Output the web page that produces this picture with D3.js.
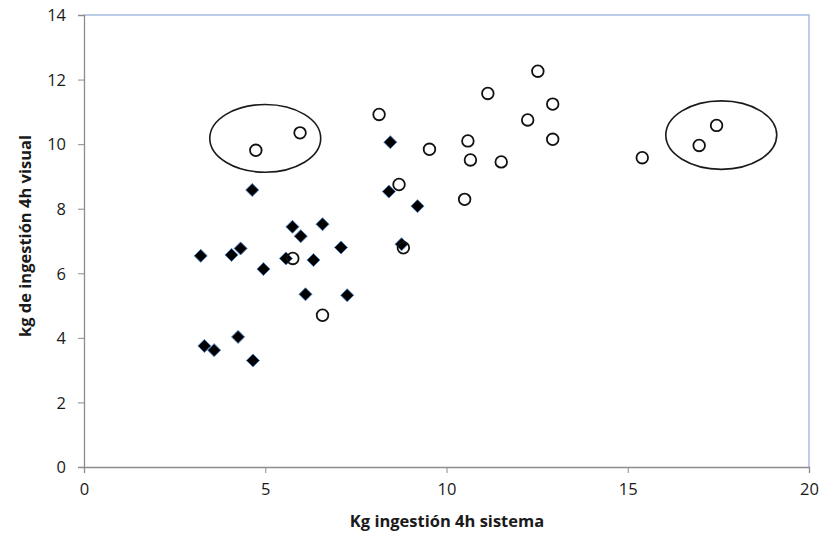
<!DOCTYPE html>
<html>
<head>
<meta charset="utf-8">
<script src="https://cdn.jsdelivr.net/npm/d3@7"></script>
<style>
  html, body { margin: 0; padding: 0; background: #fff; }
  svg { display: block; }
</style>
</head>
<body>
<svg id="chart" width="827" height="535"></svg>
<script>
// ---- data ----
const xTicks = [0, 5, 10, 15, 20];
const yTicks = [0, 2, 4, 6, 8, 10, 12, 14];
const xTitle = "Kg ingestión 4h sistema";
const yTitle = "kg de ingestión 4h visual";

// series 1: filled diamonds
const diamondX = [8.45, 8.41, 9.20, 4.64, 5.75, 6.58, 5.98, 7.09, 8.76, 3.22, 4.07, 4.32, 4.95, 5.57, 6.33, 6.11, 7.26, 4.25, 3.32, 3.59, 4.66];
const diamondY = [10.06, 8.53, 8.08, 8.58, 7.44, 7.52, 7.15, 6.80, 6.90, 6.54, 6.57, 6.77, 6.13, 6.46, 6.41, 5.35, 5.32, 4.03, 3.75, 3.62, 3.30];

// series 2: open circles
const circleX = [4.74, 5.96, 8.14, 9.53, 8.69, 8.81, 5.76, 6.58, 12.52, 11.14, 12.93, 12.24, 12.93, 10.59, 10.66, 11.51, 10.50, 15.40, 16.97, 17.45];
const circleY = [9.81, 10.35, 10.92, 9.84, 8.75, 6.79, 6.46, 4.70, 12.26, 11.57, 11.24, 10.75, 10.15, 10.10, 9.51, 9.45, 8.29, 9.58, 9.96, 10.58];

// annotation ellipses (data units): centre x, centre y, radius x, radius y
const ellipseCX = [5.00, 17.58];
const ellipseCY = [10.18, 10.28];
const ellipseRX = [1.53, 1.53];
const ellipseRY = [1.05, 1.06];

// ---- layout ----
(function () {
const svg = d3.select("#chart");
const pl = 84, pr = 809, pt = 15, pb = 467;

const x = d3.scaleLinear().domain([0, 20]).range([pl, pr]);
const y = d3.scaleLinear().domain([0, 14]).range([pb, pt]);

const font = "'Open Sans', 'DejaVu Sans', sans-serif";

// top & right border (light blue)
svg.append("path")
  .attr("d", `M${pl},${pt}H${pr}V${pb}`)
  .attr("fill", "none")
  .attr("stroke", "#a6bfe0")
  .attr("stroke-width", 1.5);

// axes
const xAxis = svg.append("g")
  .attr("transform", `translate(0,${pb})`)
  .call(d3.axisBottom(x).tickValues(xTicks).tickSizeOuter(0).tickSize(6).tickPadding(10));
const yAxis = svg.append("g")
  .attr("transform", `translate(${pl},0)`)
  .call(d3.axisLeft(y).tickValues(yTicks).tickSizeOuter(0).tickSize(6).tickPadding(12));

[xAxis, yAxis].forEach(g => {
  g.select(".domain").attr("stroke", "#8c8c8c").attr("stroke-width", 1.3);
  g.selectAll(".tick line").attr("stroke", "#8c8c8c").attr("stroke-width", 1);
  g.selectAll(".tick text")
    .attr("fill", "#1a1a1a")
    .style("font-family", font)
    .style("font-size", "16.5px");
});
yAxis.selectAll(".tick text").attr("dy", "0.35em");

// axis titles
svg.append("text")
  .attr("x", 447).attr("y", 527)
  .attr("text-anchor", "middle")
  .style("font-family", font)
  .style("font-size", "16.5px")
  .style("font-weight", "bold")
  .attr("fill", "#1a1a1a")
  .text(xTitle);

svg.append("text")
  .attr("transform", `translate(31,236) rotate(-90)`)
  .attr("text-anchor", "middle")
  .style("font-family", font)
  .style("font-size", "16.5px")
  .style("font-weight", "bold")
  .attr("fill", "#1a1a1a")
  .text(yTitle);

// ellipses
svg.append("g").selectAll("ellipse")
  .data(ellipseCX.map((cx, i) => ({cx, cy: ellipseCY[i], rx: ellipseRX[i], ry: ellipseRY[i]})))
  .join("ellipse")
  .attr("cx", d => x(d.cx))
  .attr("cy", d => y(d.cy))
  .attr("rx", d => x(d.rx) - x(0))
  .attr("ry", d => y(0) - y(d.ry))
  .attr("fill", "none")
  .attr("stroke", "#1a1a1a")
  .attr("stroke-width", 1.6);

// diamonds
const dh = 6.5;
svg.append("g").selectAll("path")
  .data(diamondX.map((v, i) => [v, diamondY[i]]))
  .join("path")
  .attr("transform", d => `translate(${x(d[0])},${y(d[1])})`)
  .attr("d", `M0,${-dh}L${dh},0L0,${dh}L${-dh},0Z`)
  .attr("fill", "#000")
  .attr("stroke", "#4f81bd")
  .attr("stroke-width", 1);

// circles
svg.append("g").selectAll("circle")
  .data(circleX.map((v, i) => [v, circleY[i]]))
  .join("circle")
  .attr("cx", d => x(d[0]))
  .attr("cy", d => y(d[1]))
  .attr("r", 5.8)
  .attr("fill", "none")
  .attr("stroke", "#111")
  .attr("stroke-width", 1.8);
})();
</script>
</body>
</html>
